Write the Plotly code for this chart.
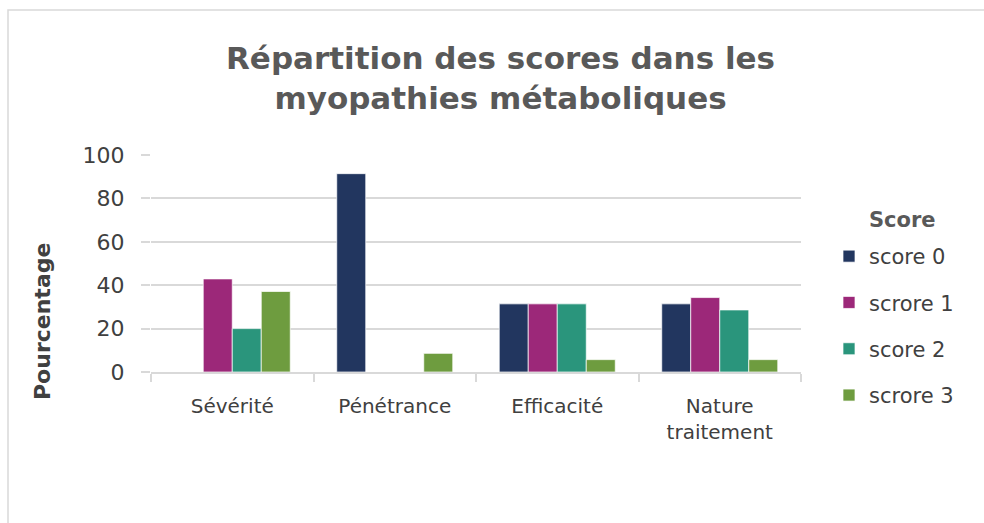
import plotly.graph_objects as go

# Data: share of patients (%) for each score level per criterion
categories = ["Sévérité", "Pénétrance", "Efficacité", "Nature<br>traitement"]
series_names = ["score 0", "scrore 1", "score 2", "scrore 3"]
score0 = [0, 91.4, 31.4, 31.4]
score1 = [42.9, 0, 31.4, 34.3]
score2 = [20.0, 0, 31.4, 28.6]
score3 = [37.1, 8.6, 5.7, 5.7]
y_ticks = [0, 20, 40, 60, 80, 100]

colors = ["#22365f", "#9c2879", "#2a957c", "#6e9c3f"]
FONT = "DejaVu Sans"
GRID = "#d9d9d9"
TEXT = "#404040"
TITLE = "#595959"

fig = go.Figure()
for i, (name, vals) in enumerate(zip(series_names, [score0, score1, score2, score3])):
    fig.add_trace(go.Bar(
        x=categories, y=vals, name=name,
        marker=dict(color=colors[i], line=dict(color="rgba(255,255,255,0.7)", width=1)),
        legendgroup=name,
    ))

# plot area in pixels: x 151..801, y 155..372
W, H = 984, 523
L, R, T, B = 151, 183, 155, 151
pw, ph = W - L - R, H - T - B

fig.update_layout(
    width=W, height=H,
    margin=dict(l=L, r=R, t=T, b=B),
    paper_bgcolor="white", plot_bgcolor="white",
    barmode="group", bargap=0.286, bargroupgap=0,
    font=dict(family=FONT, color=TEXT, size=20),
    legend=dict(
        x=(829 - L) / pw, xanchor="left",
        y=(H - B - 236) / ph, yanchor="top",
        font=dict(size=21, color=TEXT),
        traceorder="grouped", tracegroupgap=16,
        itemwidth=30, bgcolor="rgba(0,0,0,0)",
    ),
    xaxis=dict(
        showgrid=False, showline=True, linecolor=GRID, linewidth=1.5,
        ticks="outside", tickson="boundaries", ticklen=8, tickcolor=GRID, tickwidth=1.5,
        tickfont=dict(size=20, color=TEXT), ticklabelstandoff=15,
    ),
    yaxis=dict(
        range=[0, 100], tickvals=y_ticks,
        showgrid=True, gridcolor=GRID, gridwidth=1.5,
        zeroline=False, showline=False,
        ticks="outside", ticklen=9, tickcolor=GRID, tickwidth=1.5,
        tickfont=dict(size=22, color=TEXT), ticklabelstandoff=12,
    ),
    showlegend=True,
)

# chart title
fig.add_annotation(
    text="<b>Répartition des scores dans les<br>myopathies métaboliques</b>",
    xref="paper", yref="paper",
    x=(500 - L) / pw, y=(H - B - 78) / ph, xanchor="center", yanchor="middle",
    showarrow=False, font=dict(family=FONT, size=31, color=TITLE),
)

# legend heading
fig.add_annotation(
    text="<b>Score</b>",
    xref="paper", yref="paper",
    x=(902 - L) / pw, y=(H - B - 220) / ph, xanchor="center", yanchor="middle",
    showarrow=False, font=dict(family=FONT, size=21, color=TITLE),
)

# y-axis title placed beside the ticks
fig.add_annotation(
    text="<b>Pourcentage</b>", textangle=-90,
    xref="paper", yref="paper",
    x=(42 - L) / pw, y=(H - B - 322) / ph, xanchor="center", yanchor="middle",
    showarrow=False, font=dict(family=FONT, size=22, color=TEXT),
)

# light frame around the chart area
fig.add_shape(
    type="rect", xref="paper", yref="paper",
    x0=(8 - L) / pw, x1=(W + 10 - L) / pw,
    y0=(H - B - (H + 10)) / ph, y1=(H - B - 10) / ph,
    line=dict(color="#d9d9d9", width=1.5), fillcolor="rgba(0,0,0,0)", layer="below",
)

fig.write_html("out.html")
